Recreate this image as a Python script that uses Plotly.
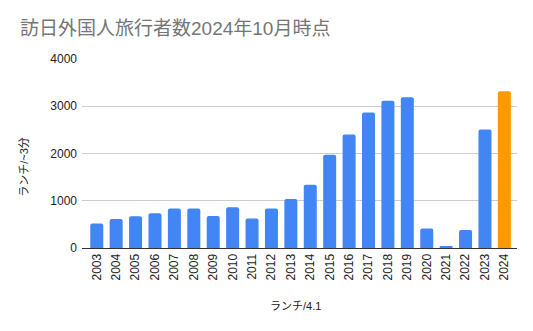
import plotly.graph_objects as go

# Visitor arrivals to Japan (10k persons), 2024 figure as of October
years = [str(y) for y in range(2003, 2025)]
visitors = [521, 614, 673, 733, 835, 835, 679, 861, 622, 836, 1036, 1341,
            1974, 2404, 2869, 3119, 3188, 412, 25, 383, 2507, 3320]
bar_colors = ["#4285F4"] * (len(years) - 1) + ["#FF9900"]

y_ticks = [0, 1000, 2000, 3000, 4000]

title_text = "訪日外国人旅行者数2024年10月時点"
x_title = "ランチ/4.1"
y_title = "ランチ/~3分"

font_family = "Liberation Sans, Arial, Noto Sans CJK JP, sans-serif"

fig = go.Figure(
    go.Bar(
        x=years,
        y=visitors,
        marker=dict(color=bar_colors, line=dict(width=0)),
        width=0.67,
    )
)

fig.update_layout(
    width=533,
    height=331,
    margin=dict(l=82, r=16, t=59, b=83),
    paper_bgcolor="white",
    plot_bgcolor="white",
    showlegend=False,
    barcornerradius=2,
    font=dict(family=font_family, size=12, color="#222222"),
    annotations=[
        dict(text=title_text, xref="paper", yref="paper", x=-64 / 435, y=1 + 31 / 189,
             xanchor="left", yanchor="middle", showarrow=False,
             font=dict(size=19, color="#757575", family=font_family)),
        dict(text=x_title, xref="paper", yref="paper", x=0.49, y=-58 / 189,
             xanchor="center", yanchor="middle", showarrow=False,
             font=dict(size=11, color="#222222", family=font_family)),
        dict(text=y_title, xref="paper", yref="paper", x=-58 / 435, y=0.43,
             xanchor="center", yanchor="middle", showarrow=False, textangle=-90,
             font=dict(size=11, color="#222222", family=font_family)),
    ],
)

fig.update_xaxes(
    type="category",
    range=[-0.76, 21.65],
    tickangle=-90,
    showgrid=False,
    showline=True,
    linecolor="#333333",
    linewidth=1,
    ticks="",
    tickfont=dict(size=12, color="#222222"),
)

fig.update_yaxes(
    range=[0, 4000],
    tickvals=y_ticks,
    showgrid=True,
    gridcolor="#cccccc",
    gridwidth=1,
    zeroline=False,
    ticks="",
    ticklabelstandoff=4,
    tickfont=dict(size=12, color="#222222"),
)

fig.write_html("out.html")
